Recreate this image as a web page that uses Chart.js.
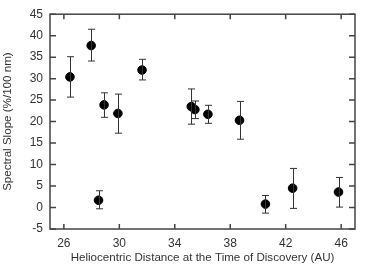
<!DOCTYPE html>
<html>
<head>
<meta charset="utf-8">
<script src="https://cdn.jsdelivr.net/npm/chart.js@4"></script>
<style>
  html, body { margin: 0; padding: 0; background: #fff; }
  #wrap { width: 382px; height: 267px; }
</style>
</head>
<body>
<div id="wrap"><canvas id="slopeChart"></canvas></div>
<script>
// values
const distance = [26.44, 27.97, 28.5, 28.9, 29.9, 31.64, 35.19, 35.45, 36.39, 38.67, 40.54, 42.5, 45.81];
const slope    = [30.4, 37.7, 1.7, 23.9, 21.9, 32.0, 23.5, 22.8, 21.7, 20.3, 0.8, 4.5, 3.6];
const slopeHi  = [35.1, 41.5, 3.9, 26.7, 26.4, 34.5, 27.6, 24.8, 23.8, 24.7, 2.8, 9.1, 7.0];
const slopeLo  = [25.7, 34.1, -0.3, 21.0, 17.3, 29.7, 19.4, 20.7, 19.6, 15.9, -1.3, -0.2, 0.1];
const xTicks = [26, 30, 34, 38, 42, 46];

const points = distance.map((d, i) => ({ x: d, y: slope[i] }));

const ink = '#333';

// error bars + boxed frame with inward ticks
const framePlugin = {
    id: 'frame',
    afterDatasetsDraw(chart) {
        const ctx = chart.ctx;
        const xs = chart.scales.x, ys = chart.scales.y;
        ctx.save();
        ctx.strokeStyle = ink;
        ctx.lineWidth = 1;
        for (let i = 0; i < distance.length; i++) {
            const px = Math.round(xs.getPixelForValue(distance[i])) + 0.5;
            const top = ys.getPixelForValue(slopeHi[i]);
            const bot = ys.getPixelForValue(slopeLo[i]);
            ctx.beginPath();
            ctx.moveTo(px, top); ctx.lineTo(px, bot);
            ctx.moveTo(px - 3.5, top); ctx.lineTo(px + 3.5, top);
            ctx.moveTo(px - 3.5, bot); ctx.lineTo(px + 3.5, bot);
            ctx.stroke();
        }
        const a = chart.chartArea;
        ctx.lineWidth = 1.5;
        ctx.strokeStyle = '#444';
        ctx.strokeRect(a.left, a.top, a.right - a.left, a.bottom - a.top);
        ctx.beginPath();
        xs.ticks.forEach(t => {
            const px = xs.getPixelForValue(t.value);
            ctx.moveTo(px, a.bottom); ctx.lineTo(px, a.bottom - 5);
            ctx.moveTo(px, a.top); ctx.lineTo(px, a.top + 5);
        });
        ys.ticks.forEach(t => {
            const py = ys.getPixelForValue(t.value);
            ctx.moveTo(a.left, py); ctx.lineTo(a.left + 6, py);
            ctx.moveTo(a.right, py); ctx.lineTo(a.right - 6, py);
        });
        ctx.stroke();
        ctx.restore();
    }
};

new Chart(document.getElementById('slopeChart'), {
    type: 'scatter',
    data: {
        datasets: [{
            data: points,
            backgroundColor: '#000',
            borderColor: '#000',
            pointRadius: 4.3,
            pointHoverRadius: 4.3
        }]
    },
    options: {
        responsive: true,
        maintainAspectRatio: false,
        animation: false,
        layout: { padding: { top: 14, right: 27, left: 0, bottom: 0 } },
        plugins: { legend: { display: false }, tooltip: { enabled: false } },
        scales: {
            x: {
                type: 'linear',
                min: 25,
                max: 47,
                afterBuildTicks: s => { s.ticks = xTicks.map(v => ({ value: v })); },
                afterFit: s => { s.height = 38; },
                grid: { display: false, drawTicks: false },
                border: { display: false },
                ticks: { color: ink, padding: 7, font: { family: 'Liberation Sans', size: 12 } },
                title: {
                    display: true,
                    text: 'Heliocentric Distance at the Time of Discovery (AU)',
                    color: ink,
                    padding: { top: 0, bottom: 2 },
                    font: { family: 'Liberation Sans', size: 11.6 }
                }
            },
            y: {
                min: -5,
                max: 45,
                afterFit: s => { s.width = 50; },
                grid: { display: false, drawTicks: false },
                border: { display: false },
                ticks: { stepSize: 5, color: ink, padding: 7, font: { family: 'Liberation Sans', size: 12 } },
                title: {
                    display: true,
                    text: 'Spectral Slope (%/100 nm)',
                    color: ink,
                    padding: { top: 1, bottom: 0 },
                    font: { family: 'Liberation Sans', size: 11.6 }
                }
            }
        }
    },
    plugins: [framePlugin]
});
</script>
</body>
</html>
